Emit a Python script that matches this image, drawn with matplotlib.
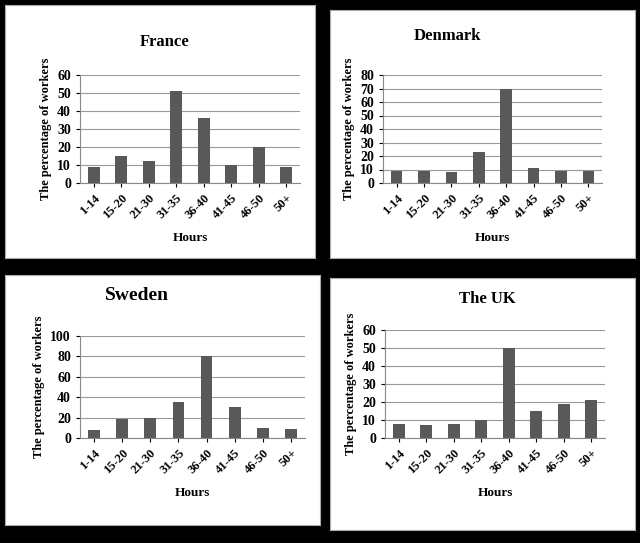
import matplotlib
matplotlib.use('Agg')
import matplotlib.pyplot as plt

plt.rcParams['font.family'] = ['Liberation Serif', 'DejaVu Serif']
plt.rcParams['font.weight'] = 'bold'

hours = ['1-14', '15-20', '21-30', '31-35', '36-40', '41-45', '46-50', '50+']
france = [9, 15, 12, 51, 36, 10, 20, 9]
denmark = [9, 9, 8, 23, 70, 11, 9, 9]
sweden = [8, 19, 20, 35, 80, 30, 10, 9]
uk = [8, 7, 8, 10, 50, 15, 19, 21]

W, H = 640, 543
fig = plt.figure(figsize=(6.4, 5.43), dpi=100, facecolor='black')

def box(x0, y0, x1, y1):
    return [x0 / W, 1 - y1 / H, (x1 - x0) / W, (y1 - y0) / H]

panels = [
    # name, values, panel box, plot box, ymax, step, title pos, title size
    ('France', france, (5, 5, 315, 258), (80, 75, 300, 183), 60, 10, (165, 42), 12),
    ('Denmark', denmark, (330, 10, 635, 258), (383, 75, 602, 183), 80, 10, (447, 36), 12),
    ('Sweden', sweden, (5, 275, 320, 525), (80, 336, 305, 438), 100, 20, (137, 295), 14),
    ('The UK', uk, (330, 278, 635, 530), (385, 330, 605, 438), 60, 10, (487, 299), 12),
]

for name, vals, pb, ab, ymax, step, tpos, tsize in panels:
    bg = fig.add_axes(box(*pb))
    bg.set_facecolor('white')
    bg.set_xticks([])
    bg.set_yticks([])
    for s in bg.spines.values():
        s.set_color('#aaaaaa')
    ax = fig.add_axes(box(*ab))
    ax.bar(range(len(hours)), vals, width=0.42, color='#595959')
    ax.set_ylim(0, ymax)
    ax.set_yticks(range(0, ymax + 1, step))
    ax.set_xlim(-0.5, len(hours) - 0.5)
    ax.set_xticks(range(len(hours)))
    ax.set_xticklabels(hours, rotation=45, ha='right', rotation_mode='anchor', fontsize=9)
    ax.tick_params(axis='y', labelsize=10, length=3)
    ax.tick_params(axis='x', length=3)
    ax.yaxis.grid(True, color='#999999', linewidth=0.8)
    ax.set_axisbelow(True)
    for s in ['top', 'right']:
        ax.spines[s].set_visible(False)
    ax.spines['left'].set_color('#888888')
    ax.spines['bottom'].set_color('#888888')
    ax.set_ylabel('The percentage of workers', fontsize=9, fontweight='bold')
    ax.set_xlabel('Hours', fontsize=9.5, fontweight='bold', labelpad=8)
    fig.text(tpos[0] / W, 1 - tpos[1] / H, name, fontsize=tsize, fontweight='bold',
             ha='center', va='center')

fig.savefig('out.png', dpi=100, facecolor='black')
